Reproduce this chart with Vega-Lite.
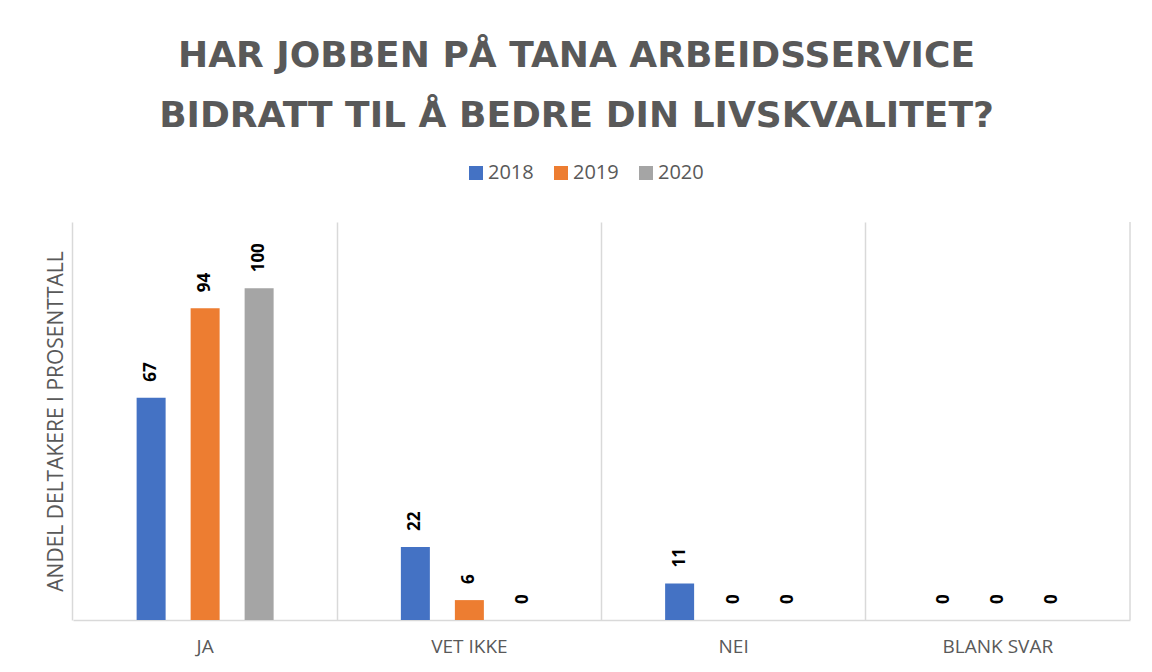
{
  "$schema": "https://vega.github.io/schema/vega-lite/v6.json",
  "width": 1057,
  "height": 398,
  "autosize": {"type": "none"},
  "padding": {"left": 73, "top": 222, "right": 22, "bottom": 52},
  "background": "white",
  "config": {"view": {"stroke": null}, "font": "Open Sans"},
  "title": {
    "text": ["HAR JOBBEN PÅ TANA ARBEIDSSERVICE", "BIDRATT TIL Å BEDRE DIN LIVSKVALITET?"],
    "font": "DejaVu Sans",
    "fontSize": 36,
    "fontWeight": "bold",
    "color": "#595959",
    "anchor": "middle",
    "frame": "group",
    "lineHeight": 60,
    "offset": 28,
    "dx": -25
  },
  "data": {
    "values": [
      {"kategori": "JA", "aar": "2018", "verdi": 67},
      {"kategori": "JA", "aar": "2019", "verdi": 94},
      {"kategori": "JA", "aar": "2020", "verdi": 100},
      {"kategori": "VET IKKE", "aar": "2018", "verdi": 22},
      {"kategori": "VET IKKE", "aar": "2019", "verdi": 6},
      {"kategori": "VET IKKE", "aar": "2020", "verdi": 0},
      {"kategori": "NEI", "aar": "2018", "verdi": 11},
      {"kategori": "NEI", "aar": "2019", "verdi": 0},
      {"kategori": "NEI", "aar": "2020", "verdi": 0},
      {"kategori": "BLANK SVAR", "aar": "2018", "verdi": 0},
      {"kategori": "BLANK SVAR", "aar": "2019", "verdi": 0},
      {"kategori": "BLANK SVAR", "aar": "2020", "verdi": 0}
    ]
  },
  "encoding": {
    "x": {
      "field": "kategori",
      "type": "nominal",
      "sort": ["JA", "VET IKKE", "NEI", "BLANK SVAR"],
      "scale": {"paddingInner": 0.0728, "paddingOuter": 0.0364},
      "axis": {
        "title": null,
        "labelAngle": 0,
        "labelFont": "Open Sans",
        "labelFontSize": 19,
        "labelColor": "#595959",
        "labelPadding": 17,
        "ticks": false,
        "domainColor": "#d9d9d9",
        "domainWidth": 1.5,
        "grid": true,
        "gridColor": "#d9d9d9",
        "gridWidth": 1.5,
        "bandPosition": -0.0393
      }
    }
  },
  "layer": [
    {
      "mark": {"type": "bar"},
      "encoding": {
        "xOffset": {
          "field": "aar",
          "type": "nominal",
          "scale": {"paddingInner": 0.463, "paddingOuter": 1}
        },
        "y": {
          "field": "verdi",
          "type": "quantitative",
          "scale": {"domain": [0, 120], "nice": false},
          "axis": {
            "title": "ANDEL DELTAKERE I PROSENTTALL",
            "titleFont": "Open Sans",
            "titleFontSize": 21,
            "titleFontWeight": "normal",
            "titleColor": "#595959",
            "titleAngle": -90,
            "titleBaseline": "middle",
            "titleAlign": "center",
            "titleX": -17,
            "titleY": 199,
            "labels": false,
            "ticks": false,
            "domain": false,
            "grid": false
          }
        },
        "color": {
          "field": "aar",
          "type": "nominal",
          "scale": {"domain": ["2018", "2019", "2020"], "range": ["#4472c4", "#ed7d31", "#a5a5a5"]},
          "legend": {
            "title": null,
            "orient": "none",
            "legendX": 393,
            "legendY": -59,
            "direction": "horizontal",
            "symbolType": "square",
            "symbolSize": 196,
            "symbolStrokeWidth": 0,
            "labelFont": "Open Sans",
            "labelFontSize": 20,
            "labelColor": "#595959",
            "labelOffset": 2,
            "columnPadding": 17,
            "padding": 0
          }
        }
      }
    },
    {
      "mark": {
        "type": "text",
        "angle": 270,
        "align": "left",
        "baseline": "middle",
        "dx": 16,
        "font": "Open Sans",
        "fontSize": 17,
        "fontWeight": "bold",
        "color": "black"
      },
      "encoding": {
        "xOffset": {"field": "aar", "type": "nominal"},
        "y": {"field": "verdi", "type": "quantitative"},
        "text": {"field": "verdi", "type": "quantitative"}
      }
    },
    {
      "transform": [{"filter": "datum.kategori === 'BLANK SVAR' && datum.aar === '2018'"}],
      "mark": {"type": "rule", "color": "#d9d9d9", "strokeWidth": 1.5},
      "encoding": {
        "x": {"field": "kategori", "type": "nominal", "bandPosition": 1.0393, "sort": ["JA", "VET IKKE", "NEI", "BLANK SVAR"]}
      }
    }
  ]
}
